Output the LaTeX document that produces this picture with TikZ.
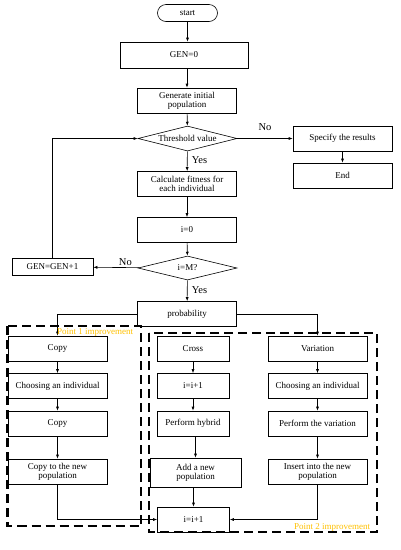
\documentclass[tikz,border=0pt]{standalone}
\usepackage{fontspec}
\setmainfont{Liberation Serif}
\usetikzlibrary{arrows.meta,shapes.geometric,positioning}
\definecolor{ptgold}{RGB}{255,192,0}
\tikzset{
  box/.style={draw, line width=0.6pt, minimum width=99pt, minimum height=25pt,
    align=center, inner sep=1pt, font=\fontsize{9}{9.2}\selectfont},
  term/.style={box, rounded corners=8.5pt, minimum width=60pt, minimum height=17pt},
  decision/.style={box, diamond, aspect=4, minimum width=99pt, minimum height=25pt, inner sep=0pt},
  arr/.style={-{Latex[length=4pt,width=3pt]}, line width=0.6pt},
  lbl/.style={font=\fontsize{10.5}{11}\selectfont},
  improve/.style={line width=2.2pt, dash pattern=on 9pt off 5pt},
  impl/.style={font=\fontsize{9}{9}\selectfont, text=ptgold}
}
\begin{document}
\begin{tikzpicture}[x=1pt, y=-1pt]
  \useasboundingbox (0,0) rectangle (401,550);
  % ── Main column ──
  \node[term] (start) at (187.5,13) {start};
  \node[box, minimum width=128pt, minimum height=26pt] (gen0) at (184,55) {GEN=0};
  \node[box] (init) at (187,100.5) {Generate initial\\population};
  \node[decision] (thresh) at (187.5,138.5) {Threshold value};
  \node[box] (fit) at (187,184) {Calculate fitness for\\each individual};
  \node[box] (izero) at (187,230) {i=0};
  \node[decision, minimum height=24pt] (im) at (187.5,268) {i=M?};
  \node[box] (prob) at (187,314) {probability};
  % ── Results branch ──
  \node[box] (spec) at (342.5,138.5) {Specify the results};
  \node[box] (fin) at (342.5,175.5) {End};
  \node[box, minimum width=81pt, minimum height=17pt] (genp) at (52.5,267) {GEN=GEN+1};
  % ── Copy column ──
  \node[box] (copya) at (57.5,348.5) {Copy};
  \node[box] (choosea) at (57.5,386) {Choosing an individual};
  \node[box] (copyb) at (57.5,423.5) {Copy};
  \node[box] (copynew) at (57.5,471.5) {Copy to the new\\population};
  % ── Cross column ──
  \node[box, minimum width=72pt] (cross) at (193,348.5) {Cross};
  \node[box, minimum width=72pt] (inca) at (193,386) {i=i+1};
  \node[box, minimum width=72pt] (hybrid) at (193,423.5) {Perform hybrid};
  \node[box, minimum width=91pt, minimum height=29pt] (addpop) at (195.5,472.5) {Add a new\\population};
  \node[box, minimum width=72pt] (incb) at (193.5,519.5) {i=i+1};
  % ── Variation column ──
  \node[box] (var) at (317.5,348.5) {Variation};
  \node[box] (chooseb) at (317.5,386) {Choosing an individual};
  \node[box] (perfvar) at (317.5,423.5) {Perform the variation};
  \node[box] (insert) at (317.5,471.5) {Insert into the new\\population};
  %
  % ── Connectors ──
  \draw[arr] (start) -- (start |- gen0.north);
  \draw[arr] (gen0.south -| init) -- (init);
  \draw[arr] (init) -- (thresh);
  \draw[arr] (thresh) -- (fit) node[lbl, pos=0.45, right=1pt] {Yes};
  \draw[arr] (thresh) -- (spec) node[lbl, pos=0.5, above=4pt] {No};
  \draw[arr] (spec) -- (fin);
  \draw[arr] (fit) -- (izero);
  \draw[arr] (izero) -- (im);
  \draw[arr] (im) -- (prob) node[lbl, pos=0.45, right=1pt] {Yes};
  \draw[arr] (im) -- (genp) node[lbl, pos=0.3, above=-2pt] {No};
  \draw[arr] (genp) |- (thresh);
  \draw[arr] (prob.west) -| (copya.north);
  \draw[arr] (prob.east) -| (var.north);
  \draw[arr] (copya) -- (choosea);
  \draw[arr] (choosea) -- (copyb);
  \draw[arr] (copyb) -- (copynew);
  \draw[arr] (cross) -- (inca);
  \draw[arr] (inca) -- (hybrid);
  \draw[arr] (hybrid.south -| addpop) -- (addpop);
  \draw[arr] (addpop.south -| incb) -- (incb);
  \draw[arr] (var) -- (chooseb);
  \draw[arr] (chooseb) -- (perfvar);
  \draw[arr] (perfvar) -- (insert);
  \draw[arr] (copynew.south) |- (incb.west);
  \draw[arr] (insert.south) |- (incb.east);
  %
  % ── Improvement frames ──
  \draw[improve] (7.5,326) rectangle (141,526);
  \node[impl] (pointa) at (95,332.5) {Point 1 improvement};
  \draw[improve] (149,333) rectangle (377,532);
  \node[impl] (pointb) at (332,527) {Point 2 improvement};
\end{tikzpicture}
\end{document}
